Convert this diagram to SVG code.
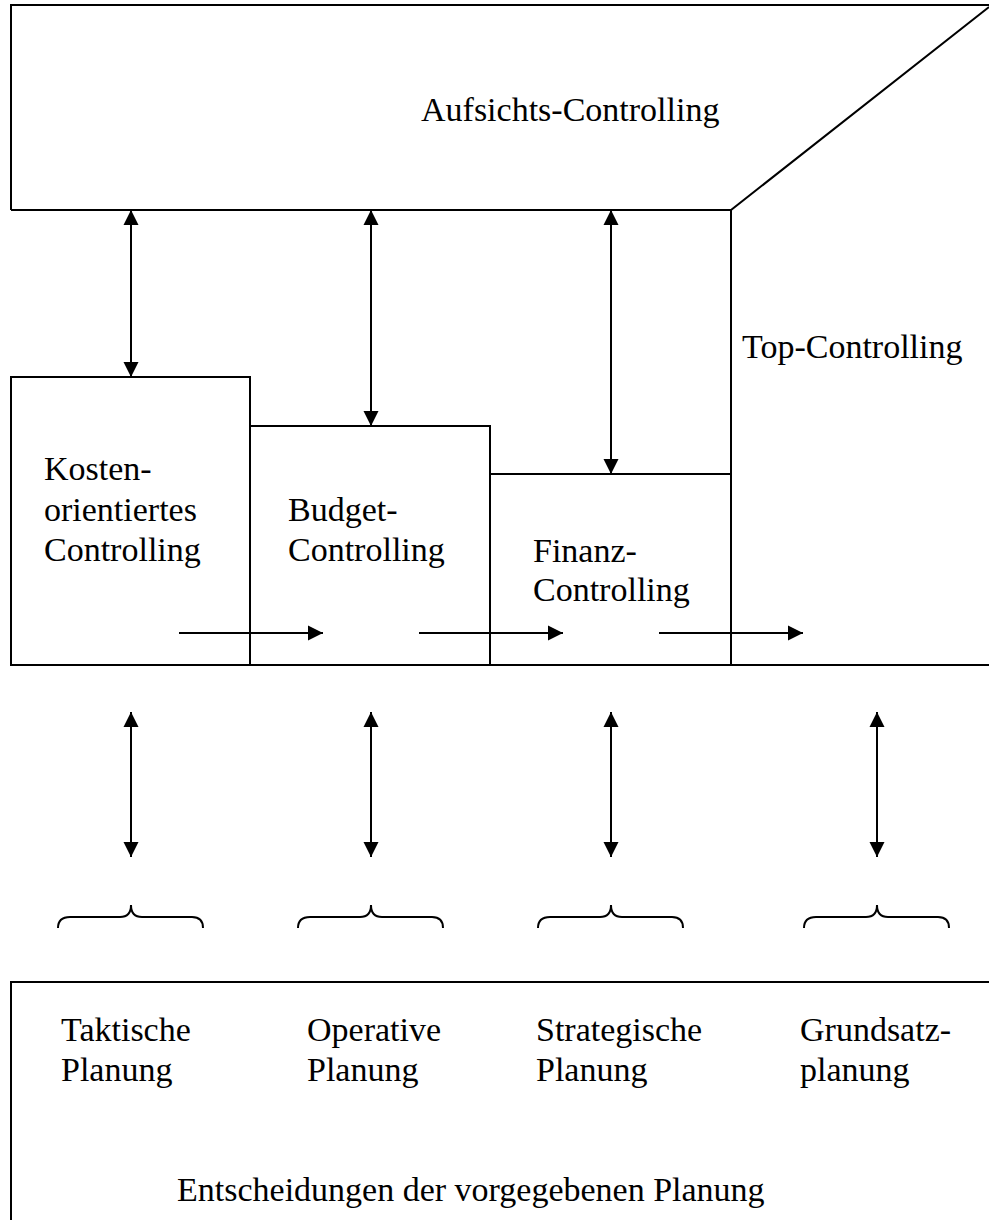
<svg xmlns="http://www.w3.org/2000/svg" width="989" height="1220" viewBox="0 0 989 1220">
<defs>
<marker id="ah" markerUnits="userSpaceOnUse" markerWidth="16" markerHeight="16" viewBox="0 0 16 16" refX="15" refY="8" orient="auto-start-reverse">
<path d="M0,0.5 L15,8 L0,15.5 Z" fill="#000"/>
</marker>
</defs>
<style>
.ln{fill:none;stroke:#000;stroke-width:2}
.ar{fill:none;stroke:#000;stroke-width:2;marker-end:url(#ah)}
.da{fill:none;stroke:#000;stroke-width:2;marker-start:url(#ah);marker-end:url(#ah)}
.br{fill:none;stroke:#000;stroke-width:2}
text{font-family:"Liberation Serif","Times New Roman",serif;font-size:34px;fill:#000}
</style>
<rect width="989" height="1220" fill="#fff"/>
<g id="aufsichts">
<path class="ln" d="M11,210 L11,5 L989,5 M989,7 L731,210 L11,210"/>
<text x="421" y="121">Aufsichts-Controlling</text>
</g>
<g id="top-controlling">
<path class="ln" d="M731,210 L731,665 M731,665 L989,665"/>
<text x="742" y="358">Top-Controlling</text>
</g>
<g id="kosten">
<rect class="ln" x="11" y="377" width="239" height="288"/>
<text x="44" y="480">Kosten-</text>
<text x="44" y="521">orientiertes</text>
<text x="44" y="561">Controlling</text>
</g>
<g id="budget">
<rect class="ln" x="250" y="426" width="240" height="239"/>
<text x="288" y="521">Budget-</text>
<text x="288" y="561">Controlling</text>
</g>
<g id="finanz">
<rect class="ln" x="490" y="474" width="241" height="191"/>
<text x="533" y="562">Finanz-</text>
<text x="533" y="601">Controlling</text>
</g>
<g id="entscheidungen">
<path class="ln" d="M11,1220 L11,982 L989,982"/>
<text x="61" y="1041">Taktische</text>
<text x="61" y="1081">Planung</text>
<text x="307" y="1041">Operative</text>
<text x="307" y="1081">Planung</text>
<text x="536" y="1041">Strategische</text>
<text x="536" y="1081">Planung</text>
<text x="800" y="1041">Grundsatz-</text>
<text x="800" y="1081">planung</text>
<text x="177" y="1201">Entscheidungen der vorgegebenen Planung</text>
</g>
<g id="braces">
<path class="br" d="M58,928 Q58,917 70,917 L120,917 Q131,917 131,905 Q131,917 142,917 L192,917 Q203,917 203,928"/>
<path class="br" d="M298,928 Q298,917 310,917 L360,917 Q371,917 371,905 Q371,917 382,917 L432,917 Q443,917 443,928"/>
<path class="br" d="M538,928 Q538,917 550,917 L600,917 Q611,917 611,905 Q611,917 622,917 L672,917 Q683,917 683,928"/>
<path class="br" d="M804,928 Q804,917 816,917 L866,917 Q877,917 877,905 Q877,917 888,917 L938,917 Q949,917 949,928"/>
</g>
<g id="connectors">
<line class="da" x1="131" y1="210" x2="131" y2="377"/>
<line class="da" x1="371" y1="210" x2="371" y2="426"/>
<line class="da" x1="611" y1="210" x2="611" y2="474"/>
<line class="ar" x1="179" y1="633" x2="323" y2="633"/>
<line class="ar" x1="419" y1="633" x2="563" y2="633"/>
<line class="ar" x1="659" y1="633" x2="803" y2="633"/>
<line class="da" x1="131" y1="712" x2="131" y2="857"/>
<line class="da" x1="371" y1="712" x2="371" y2="857"/>
<line class="da" x1="611" y1="712" x2="611" y2="857"/>
<line class="da" x1="877" y1="712" x2="877" y2="857"/>
</g>
</svg>
